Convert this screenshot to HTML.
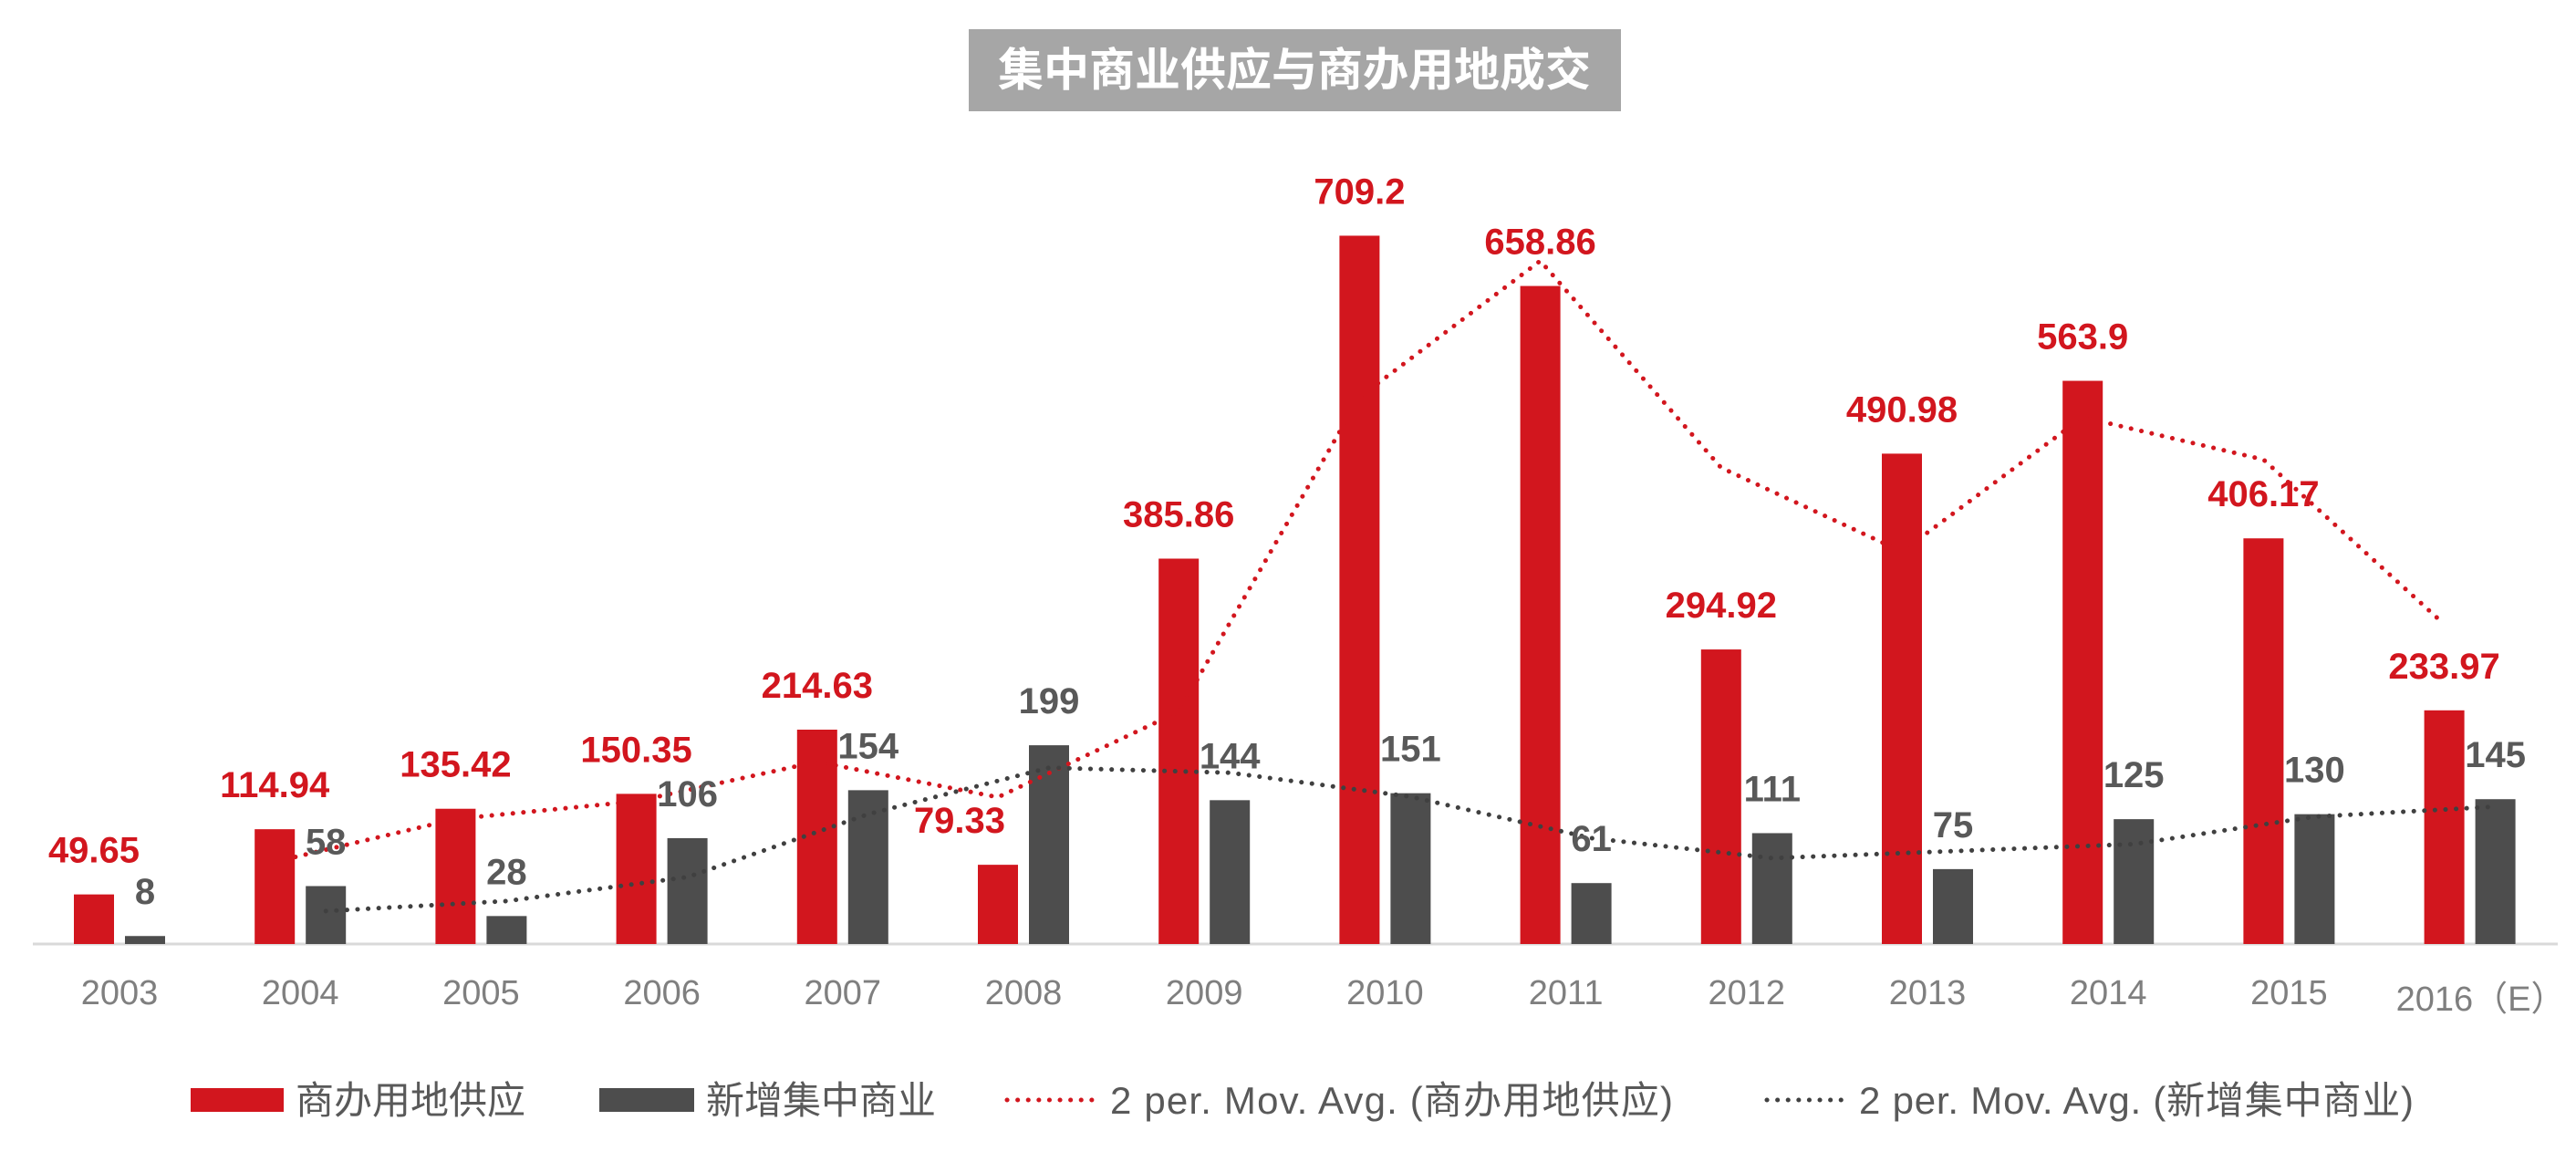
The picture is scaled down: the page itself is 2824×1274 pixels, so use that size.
<!DOCTYPE html>
<html><head><meta charset="utf-8"><style>
html,body{margin:0;padding:0;background:#fff;}
svg{display:block;}
</style></head><body>
<svg id="chart" width="2824" height="1274" viewBox="0 0 2824 1274" xmlns="http://www.w3.org/2000/svg">
<rect x="1062" y="32" width="715" height="90" fill="#a6a6a6"/>
<text x="1419" y="94" text-anchor="middle" font-family="'Liberation Sans','Noto Sans CJK SC',sans-serif" font-weight="bold" font-size="50" fill="#fff">集中商业供应与商办用地成交</text>
<line x1="36" y1="1035" x2="2804" y2="1035" stroke="#d9d9d9" stroke-width="3"/>
<g id="bars"></g><g id="lines"></g><g id="labels"></g><g id="xticks"></g>
<g font-family="'Liberation Sans','Noto Sans CJK SC',sans-serif" font-size="42" fill="#595959">
<rect x="209" y="1193" width="102" height="26" fill="#d2161e"/>
<text x="324" y="1221">商办用地供应</text>
<rect x="657" y="1193" width="104" height="26" fill="#4d4d4d"/>
<text x="774" y="1221">新增集中商业</text>
<line x1="1104" y1="1206" x2="1202" y2="1206" stroke="#d2161e" stroke-width="5" stroke-linecap="round" stroke-dasharray="0.1 11.5"/>
<text x="1217" y="1221" textLength="617">2 per. Mov. Avg. (商办用地供应)</text>
<line x1="1937" y1="1206" x2="2025" y2="1206" stroke="#404040" stroke-width="5" stroke-linecap="round" stroke-dasharray="0.1 11.5"/>
<text x="2038" y="1221" textLength="608">2 per. Mov. Avg. (新增集中商业)</text>
</g>
</svg>
<script>
const categories = ["2003","2004","2005","2006","2007","2008","2009","2010","2011","2012","2013","2014","2015","2016（E）"];
const landSupply = [49.65,114.94,135.42,150.35,214.63,79.33,385.86,709.2,658.86,294.92,490.98,563.9,406.17,233.97];
const commercial = [8,58,28,106,154,199,144,151,61,111,75,125,130,145];
const landLabels = ["49.65","114.94","135.42","150.35","214.63","79.33","385.86","709.2","658.86","294.92","490.98","563.9","406.17","233.97"];
const commLabels = ["8","58","28","106","154","199","144","151","61","111","75","125","130","145"];
const NS='http://www.w3.org/2000/svg';
const baseY=1035, pxPerUnit=1.095, x0=131, step=198.2, barW=44, gap=12;
function xCenter(i){return x0+i*step;}
function yVal(v){return baseY-v*pxPerUnit;}
function mk(tag,attrs,parent){const e=document.createElementNS(NS,tag);for(const k in attrs)e.setAttribute(k,attrs[k]);parent.appendChild(e);return e;}
const gB=document.getElementById('bars'),gL=document.getElementById('lines'),gT=document.getElementById('labels'),gX=document.getElementById('xticks');
const font="'Liberation Sans','Noto Sans CJK SC',sans-serif";
const redC=[],grayC=[];
categories.forEach((c,i)=>{
  const xc=xCenter(i);
  const rx=xc-gap/2-barW, gx=xc+gap/2;
  redC.push(rx+barW/2); grayC.push(gx+barW/2);
  const r=mk('rect',{x:rx,y:yVal(landSupply[i]),width:barW,height:landSupply[i]*pxPerUnit,fill:'#d2161e'},gB);
  
  
  const g=mk('rect',{x:gx,y:yVal(commercial[i]),width:barW,height:commercial[i]*pxPerUnit,fill:'#4d4d4d'},gB);
  
  
  const lx = (i===5)? rx+barW/2-42 : rx+barW/2;
  const t1=mk('text',{x:lx,y:yVal(landSupply[i])-35,'text-anchor':'middle','font-family':font,'font-weight':'bold','font-size':40,fill:'#d2161e'},gT);
  t1.textContent=landLabels[i];
  
  
  const t2=mk('text',{x:gx+barW/2,y:yVal(commercial[i])-35,'text-anchor':'middle','font-family':font,'font-weight':'bold','font-size':40,fill:'#595959'},gT);
  t2.textContent=commLabels[i];
  
  
  const tx=mk('text',{x:(i===13?xc+12:xc),y:(i===13?1108:1101),'text-anchor':'middle','font-family':font,'font-size':38,fill:'#7f7f7f'},gX);
  tx.textContent=c;
  
  
});
function maPath(vals,xs){const p=[];for(let i=1;i<vals.length;i++){p.push(xs[i]+','+yVal((vals[i]+vals[i-1])/2));}return p.join(' ');}
const l1=mk('polyline',{points:maPath(landSupply,redC),fill:'none',stroke:'#d2161e','stroke-width':5,'stroke-linecap':'round','stroke-dasharray':'0.1 11.5'},gL);


const l2=mk('polyline',{points:maPath(commercial,grayC),fill:'none',stroke:'#404040','stroke-width':5,'stroke-linecap':'round','stroke-dasharray':'0.1 11.5'},gL);


</script>
</body></html>
